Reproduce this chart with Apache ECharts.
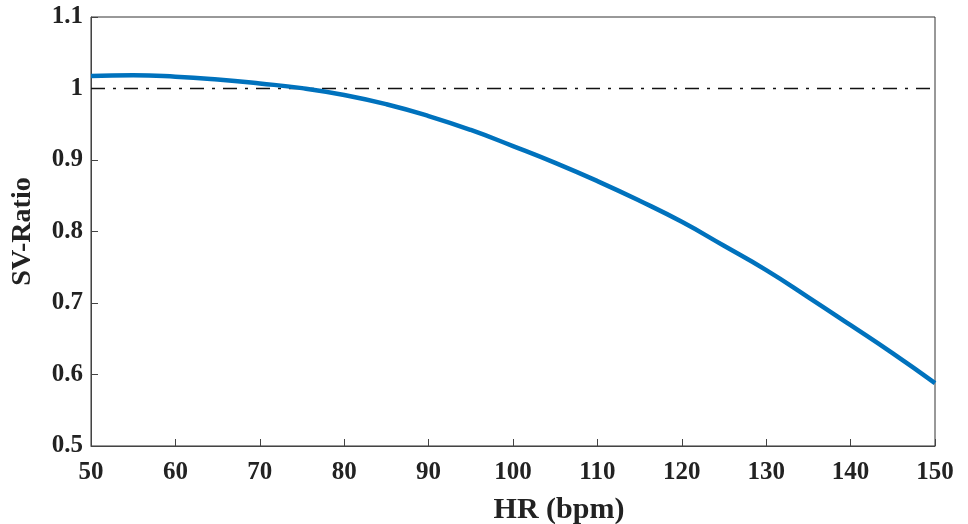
<!DOCTYPE html>
<html>
<head>
<meta charset="utf-8">
<script src="https://cdn.jsdelivr.net/npm/echarts@6/dist/echarts.min.js"></script>
<style>
  html, body { margin: 0; padding: 0; background: #fff; }
  #chart { width: 968px; height: 524px; }
</style>
</head>
<body>
<div id="chart"></div>
<script>
// heart rate (bpm) and stroke-volume ratio
const hr = [50, 55, 60, 65, 70, 75, 80, 85, 90, 95, 100, 105, 110, 115, 120, 125, 130, 135, 140, 145, 150]
const svRatio = [1.0175, 1.0185, 1.0165, 1.0125, 1.007, 1.0005, 0.991, 0.978, 0.9615, 0.942, 0.9195, 0.896, 0.8705, 0.843, 0.8135, 0.780, 0.746, 0.708, 0.669, 0.6295, 0.588]
const refLevel = 1

const chart = echarts.init(document.getElementById('chart'))
const font = 'Liberation Serif'

const option = {
  animation: false,
  grid: {
    left: 91, right: 33, top: 17, bottom: 78,
    outerBoundsMode: 'none',
    containLabel: false,
    show: true, borderColor: '#333', borderWidth: 1
  },
  xAxis: {
    type: 'value',
    min: 50, max: 150, interval: 10,
    name: 'HR (bpm)',
    nameLocation: 'middle',
    nameGap: 49,
    nameTextStyle: { fontFamily: font, fontWeight: 'bold', fontSize: 30, color: '#222', padding: [0, 0, 0, 92] },
    axisLine: { lineStyle: { color: '#444' } },
    axisTick: { inside: true, length: 7, lineStyle: { color: '#444' } },
    axisLabel: { fontFamily: font, fontWeight: 'bold', fontSize: 25, color: '#222', margin: 14 },
    splitLine: { show: false }
  },
  yAxis: {
    type: 'value',
    min: 0.5, max: 1.1, interval: 0.1,
    name: 'SV-Ratio',
    nameLocation: 'middle',
    nameGap: 54,
    nameTextStyle: { fontFamily: font, fontWeight: 'bold', fontSize: 28, color: '#222' },
    axisLine: { lineStyle: { color: '#444' } },
    axisTick: { inside: true, length: 7, lineStyle: { color: '#444' } },
    axisLabel: {
      fontFamily: font, fontWeight: 'bold', fontSize: 25, color: '#222', margin: 8,
      formatter: v => String(Math.round(v * 10) / 10)
    },
    splitLine: { show: false }
  },
  series: [
    {
      type: 'line',
      data: hr.map(h => [h, refLevel]),
      symbol: 'none',
      lineStyle: { color: '#111', width: 1.6, type: [14, 8, 3, 8] },
      z: 2
    },
    {
      type: 'line',
      data: hr.map((h, i) => [h, svRatio[i]]),
      smooth: 0.5,
      symbol: 'none',
      lineStyle: { color: '#0072BD', width: 4.5 },
      z: 3
    }
  ]
}
chart.setOption(option)
</script>
</body>
</html>
